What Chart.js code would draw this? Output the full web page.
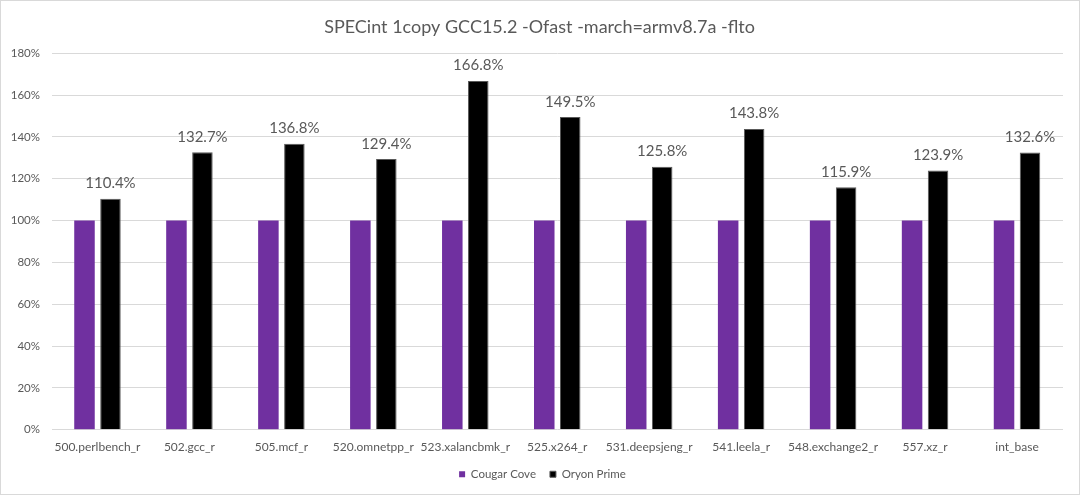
<!DOCTYPE html>
<html>
<head>
<meta charset="utf-8">
<script src="https://cdn.jsdelivr.net/npm/chart.js@4/dist/chart.umd.min.js"></script>
<style>
    html, body { margin: 0; padding: 0; background: #fff; }
    #wrap { position: relative; width: 1078px; height: 493px; border: 1px solid #d9d9d9; }
    #chart { display: block; }
</style>
</head>
<body>
<div id="wrap"><canvas id="chart" width="1078" height="493"></canvas></div>
<script>
var chartTitle = 'SPECint 1copy GCC15.2 -Ofast -march=armv8.7a -flto';
var categories = ['500.perlbench_r', '502.gcc_r', '505.mcf_r', '520.omnetpp_r', '523.xalancbmk_r',
    '525.x264_r', '531.deepsjeng_r', '541.leela_r', '548.exchange2_r', '557.xz_r', 'int_base'];
var cougarCove = [100, 100, 100, 100, 100, 100, 100, 100, 100, 100, 100];
var oryonPrime = [110.4, 132.7, 136.8, 129.4, 166.8, 149.5, 125.8, 143.8, 115.9, 123.9, 132.6];
var yMin = 0, yMax = 180, yStep = 20;

var fontFamily = 'Lato, "Open Sans", sans-serif';
var textColor = '#595959';
var gridColor = '#d9d9d9';

// value labels above the Oryon Prime bars
var barLabels = {
    id: 'barLabels',
    afterDatasetsDraw: function(chart) {
        var ctx = chart.ctx;
        var meta = chart.getDatasetMeta(1);
        ctx.save();
        ctx.font = '15px ' + fontFamily;
        ctx.fillStyle = textColor;
        ctx.textAlign = 'center';
        ctx.textBaseline = 'alphabetic';
        meta.data.forEach(function(bar, i) {
            ctx.fillText(oryonPrime[i].toFixed(1) + '%', bar.x, bar.y - 10.5);
        });
        ctx.restore();
    }
};

// excel centres title/legend on the whole frame, not on the area right of the y axis labels
var nudgeBlocks = {
    id: 'nudgeBlocks',
    afterLayout: function(chart) {
        if (chart.titleBlock) {
            chart.titleBlock.left += 7.5;
            chart.titleBlock.right += 7.5;
        }
        if (chart.legend) {
            chart.legend.left += 10.5;
            chart.legend.right += 10.5;
        }
    }
};

new Chart(document.getElementById('chart'), {
    type: 'bar',
    data: {
        labels: categories,
        datasets: [{
            label: 'Cougar Cove',
            data: cougarCove,
            backgroundColor: '#7030a0',
            borderWidth: 0,
            categoryPercentage: 0.565,
            barPercentage: 0.79
        }, {
            label: 'Oryon Prime',
            data: oryonPrime,
            backgroundColor: '#000000',
            borderColor: '#595959',
            borderWidth: 1,
            categoryPercentage: 0.565,
            barPercentage: 0.79
        }]
    },
    options: {
        responsive: false,
        animation: false,
        layout: { padding: { left: 0, right: 16, top: 0, bottom: 4 } },
        plugins: {
            title: {
                display: true,
                text: chartTitle,
                color: textColor,
                font: { family: fontFamily, size: 18, weight: 'normal' },
                padding: { top: 15.4, bottom: 15.3 }
            },
            legend: {
                position: 'bottom',
                labels: {
                    color: textColor,
                    font: { family: fontFamily, size: 11.5 },
                    boxWidth: 6,
                    boxHeight: 6,
                    padding: 14
                }
            },
            tooltip: { enabled: false }
        },
        scales: {
            x: {
                grid: { display: false },
                border: { display: false },
                afterFit: function(scale) { scale.height = 24.8; },
                ticks: {
                    color: textColor,
                    font: { family: fontFamily, size: 12 },
                    maxRotation: 0,
                    autoSkip: false,
                    padding: 2
                }
            },
            y: {
                min: yMin,
                max: yMax,
                grid: { color: gridColor, drawTicks: false },
                border: { display: false },
                afterFit: function(scale) { scale.width = 50.5; },
                ticks: {
                    stepSize: yStep,
                    color: textColor,
                    font: { family: fontFamily, size: 11.5 },
                    padding: 11.5,
                    callback: function(v) { return v + '%'; }
                }
            }
        }
    },
    plugins: [barLabels, nudgeBlocks]
});
</script>
</body>
</html>
